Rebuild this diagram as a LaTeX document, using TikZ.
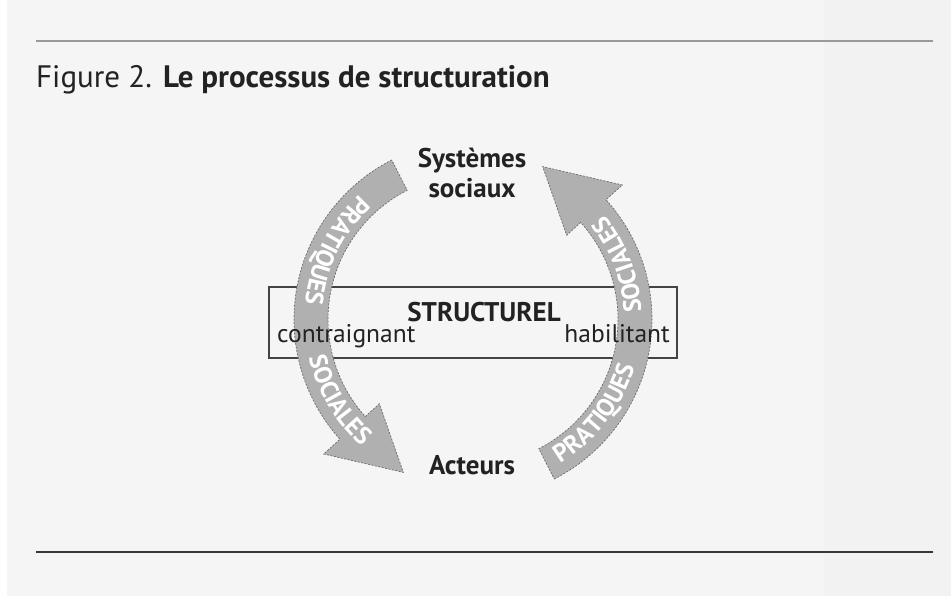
\documentclass[tikz,border=0pt]{standalone}
\usepackage{fontspec}
\setmainfont{PT Sans}
\usepackage{contour}
\contourlength{0.7pt}
\usetikzlibrary{
    decorations.text,
    positioning
}
\definecolor{paper}{HTML}{F5F5F5}
\definecolor{band}{HTML}{B0B0B0}
\definecolor{bandedge}{HTML}{6A6A6A}
\definecolor{rulegrey}{HTML}{9A9A9A}
\definecolor{ink}{HTML}{222222}
\newcommand{\bandfont}{\fontsize{25}{25}\selectfont\bfseries\color{white}\contour{bandedge}}
\tikzset {
    label/.style = {font = \fontsize{27}{30}\selectfont\bfseries, text = ink, inner sep = 0pt},
    side label/.style = {font = \fontsize{25.5}{25.5}\selectfont, text = ink, inner sep = 0pt},
    struct box/.style = {draw = ink!85, line width = 1.4pt, minimum width = 408pt, minimum height = 71pt, inner sep = 0pt},
    cycle arrow/.style = {fill = band, draw = bandedge, line width = 0.7pt, dash pattern = on 2pt off 1.5pt},
    band text/.style = {
        decorate,
        decoration = {
            text along path,
            text = {|\bandfont|#1},
            text align = center
        }
    },
    cycle arrow shape/.pic = {
        \path [cycle arrow]
            (117:179) arc [start angle = 117, end angle = 222, radius = 179]
            -- (222:201) -- (245.5:168) -- (222:126) -- (222:145)
            arc [start angle = 222, end angle = 117, radius = 145] -- cycle;
    }
}

\begin{document}
\begin{tikzpicture}[x = 1pt, y = 1pt]
    \useasboundingbox (0, 0) rectangle (951, 596);
    \fill [paper] (0, 0) rectangle (951, 596);
    \fill [white] (0, 0) rectangle (7, 596);
    \fill [black!5] (824, 0) rectangle (951, 596);
    \draw [rulegrey, line width = 2.5pt] (36, 555) -- (933, 555);
    \draw [ink!90, line width = 2.2pt] (36, 44) -- (933, 44);
    \node (title) [anchor = base west, inner sep = 0pt, font = \fontsize{31}{31}\selectfont, text = ink]
        at (36, 508) {Figure 2. \textbf{Le processus de structuration}};
    \coordinate (o) at (473, 276.5);
    \node (box) [struct box] at (473, 273.5) {};
    \pic at (o) {cycle arrow shape};
    \pic [rotate = 180] at (o) {cycle arrow shape};
    \begin{scope}[shift = {(o)}]
        \path [band text = PRATIQUES] (130:168.5) arc [start angle = 130, end angle = 177, radius = 168.5];
        \path [band text = SOCIALES] (190:168.5) arc [start angle = 190, end angle = 232, radius = 168.5];
        \path [band text = PRATIQUES] (-62:168.5) arc [start angle = -62, end angle = -13, radius = 168.5];
        \path [band text = SOCIALES] (0:168.5) arc [start angle = 0, end angle = 41, radius = 168.5];
    \end{scope}
    \node (sys) [label, align = center, anchor = base] at (472, 398) {Systèmes\\sociaux};
    \node (act) [label, anchor = base] at (472, 121) {Acteurs};
    \node (struct) [label, anchor = base] at (484, 274) {STRUCTUREL};
    \node (contr) [side label, anchor = base west] at (277, 253) {contraignant};
    \node (habil) [side label, anchor = base east] at (670, 253) {habilitant};
\end{tikzpicture}
\end{document}
